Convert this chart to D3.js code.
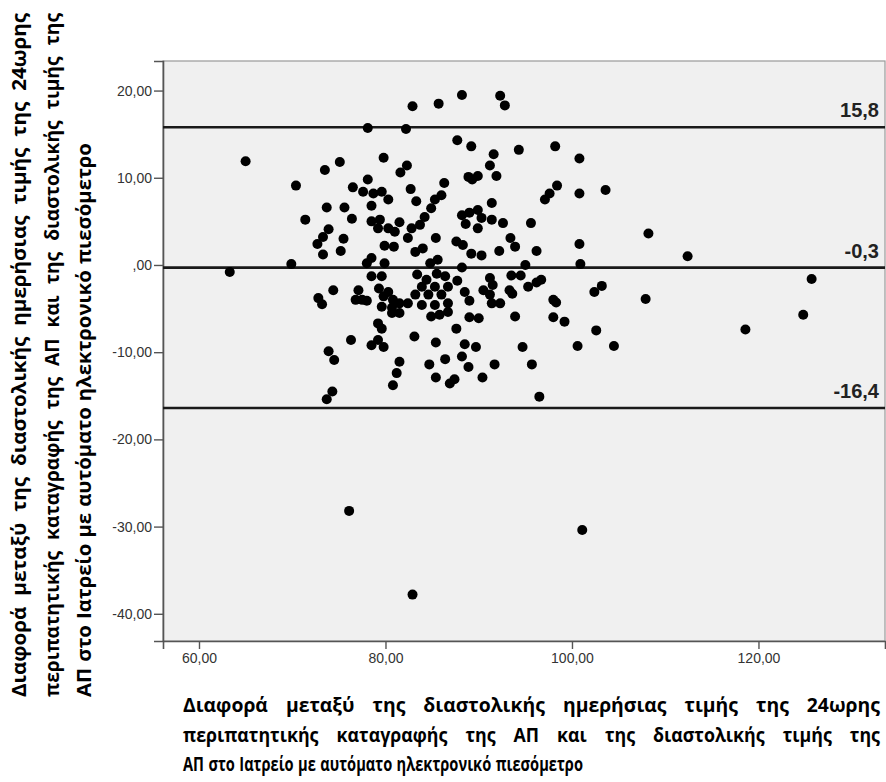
<!DOCTYPE html>
<html>
<head>
<meta charset="UTF-8">
<script src="https://d3js.org/d3.v7.min.js"></script>
<style>
	body{ margin: 0; background: #fff; }
	svg{ display: block; }
</style>
</head>
<body>
<svg id="chart" width="886" height="782"></svg>
<script>
	// Bland-Altman data
	var meanBP = [
		65.0, 70.4, 73.5, 75.1, 76.5, 78.1, 78.1, 79.8, 82.2, 82.9, 81.6, 82.3, 82.7, 85.7, 86.3, 87.7,
		88.2, 89.2, 88.9, 89.3, 89.9, 91.2, 91.6, 91.9, 92.3, 92.8, 94.3, 98.2, 100.8, 98.4, 97.6, 97.1,
		100.8, 103.6, 77.6, 78.7, 79.6, 80.3, 78.5,
		71.4, 73.7, 75.6, 76.4, 83.3, 85.3, 86.0, 84.9, 84.2, 83.7, 82.8, 82.4, 78.5, 79.4, 79.2, 80.3,
		81.0, 81.5, 79.9, 80.9, 83.2, 84.0, 85.4, 88.2, 89.0, 89.9, 90.3, 88.6, 89.9, 91.4, 91.4, 92.6,
		95.6, 87.6, 88.3, 89.2, 90.3, 92.2, 93.4, 93.9, 96.2, 100.8, 100.9, 95.0, 69.9, 63.3, 72.7, 73.3,
		73.9, 73.3, 75.5, 75.2, 78.0, 78.5, 79.9, 84.8, 85.6, 88.2, 83.4, 78.5, 79.6, 74.4, 72.8, 73.2,
		76.8, 77.1, 77.5, 78.0, 79.3, 80.3, 79.8, 80.8, 79.6, 80.7, 81.5, 84.4, 85.5, 86.4, 83.9, 85.3,
		86.7, 83.2, 84.6, 86.0, 82.4, 83.9, 85.3, 86.7, 87.7, 88.5, 89.0, 90.5, 91.2, 91.5, 91.2, 91.4,
		92.3, 93.3, 93.6, 93.5, 94.5, 95.3, 96.2, 96.7, 98.0, 98.3, 102.4, 103.2, 108.2, 112.4, 125.7, 107.9,
		124.8, 118.6,
		79.2, 79.6, 76.3, 78.5, 79.2, 79.8, 73.9, 74.5, 74.3, 73.7, 83.1, 81.5, 81.2, 80.8, 87.6, 85.4,
		88.5, 89.7, 84.7, 86.4, 88.2, 88.9, 85.4, 86.9, 87.4, 90.4, 91.7, 94.7, 95.7, 96.5, 93.9, 98.0,
		99.2, 102.6, 100.6, 104.5, 80.7, 81.5, 84.9, 85.8, 86.7, 89.0, 90.0, 76.1, 82.9, 101.1
	];
	var diffBP = [
		11.9, 9.1, 10.9, 11.8, 8.9, 15.7, 9.8, 12.3, 15.6, 18.2, 10.6, 11.4, 8.7, 18.5, 9.4, 14.3,
		19.5, 13.6, 10.1, 9.8, 10.2, 11.4, 12.7, 10.2, 19.4, 18.3, 13.2, 13.6, 12.2, 9.1, 8.2, 7.5,
		8.2, 8.6, 8.4, 8.2, 8.4, 7.5, 6.8,
		5.2, 6.6, 6.6, 5.3, 7.3, 7.5, 8.0, 6.5, 5.5, 4.6, 4.2, 3.1, 5.0, 5.2, 4.2, 4.2,
		3.8, 4.9, 2.2, 2.1, 1.5, 1.9, 3.1, 5.7, 6.0, 6.3, 5.4, 4.7, 4.2, 7.1, 5.2, 4.8,
		4.8, 2.7, 2.3, 1.3, 1.1, 1.6, 3.1, 2.1, 1.6, 2.4, 0.1, 0.0, 0.1, -0.8, 2.4, 3.2,
		4.1, 1.2, 3.0, 1.6, 0.2, 0.8, 0.2, 0.2, 0.6, -0.3, -1.1, -1.3, -1.3, -2.9, -3.8, -4.5,
		-4.0, -2.9, -4.0, -4.1, -2.7, -3.1, -3.6, -4.0, -4.8, -4.9, -4.4, -1.7, -1.0, -1.3, -2.5, -2.5,
		-2.5, -3.4, -3.4, -3.4, -4.4, -4.6, -4.6, -4.4, -1.8, -3.1, -4.1, -2.9, -1.5, -2.3, -3.4, -4.4,
		-4.4, -2.9, -3.3, -1.2, -1.2, -2.5, -2.0, -1.7, -4.0, -4.3, -3.1, -2.4, 3.6, 1.0, -1.6, -3.9,
		-5.7, -7.4,
		-6.7, -7.3, -8.6, -9.2, -8.6, -9.4, -9.9, -10.9, -14.5, -15.4, -8.2, -11.1, -12.4, -13.8, -7.3, -8.9,
		-9.1, -9.4, -11.4, -10.8, -10.5, -11.7, -12.9, -13.6, -13.1, -12.9, -11.4, -9.4, -11.4, -15.1, -5.9, -6.0,
		-6.5, -7.5, -9.3, -9.3, -5.5, -5.5, -5.9, -5.7, -5.4, -6.0, -6.1, -28.2, -37.8, -30.4
	];

	// mean difference and limits of agreement
	var refLines = [15.8, -0.3, -16.4];
	var refLabels = ["15,8", "-0,3", "-16,4"];

	var xTicks = [60, 80, 100, 120];
	var yTicks = [20, 10, 0, -10, -20, -30, -40];

	var xTitle = [
		"Διαφορά μεταξύ της διαστολικής ημερήσιας τιμής της 24ωρης",
		"περιπατητικής καταγραφής της ΑΠ και της διαστολικής τιμής της",
		"ΑΠ στο Ιατρείο με αυτόματο ηλεκτρονικό πιεσόμετρο"
	];
	var yTitle = xTitle;

	var svg = d3.select("#chart");

	// plot area
	var plotL = 163, plotR = 885, plotT = 61, plotB = 641;

	var x = d3.scaleLinear().domain([56.14, 133.57]).range([plotL, plotR]);
	var y = d3.scaleLinear().domain([-43.12, 23.39]).range([plotB, plotT]);

	function fmt(v){
		if(v == 0) return ",00";
		return d3.format(".2f")(v).replace(".", ",").replace("\u2212", "-");
	}

	svg.append("rect")
		.attr("x", plotL).attr("y", plotT)
		.attr("width", plotR - plotL).attr("height", plotB - plotT)
		.attr("fill", "#f0f0f0")
		.attr("stroke", "#999")
		.attr("stroke-width", 1.2);

	// axes
	var yAxis = svg.append("g")
		.attr("transform", "translate(" + plotL + ",0)")
		.call(d3.axisLeft(y).tickValues(yTicks).tickFormat(fmt).tickSize(9).tickPadding(2));
	var xAxis = svg.append("g")
		.attr("transform", "translate(0," + plotB + ")")
		.call(d3.axisBottom(x).tickValues(xTicks).tickFormat(fmt).tickSize(8).tickPadding(4));

	[xAxis, yAxis].forEach(function(a){
		a.select(".domain").attr("stroke", "#555").attr("stroke-width", 1.6);
		a.selectAll(".tick line").attr("stroke", "#555").attr("stroke-width", 1.4);
		a.selectAll(".tick text")
			.attr("fill", "#333")
			.attr("font-family", "'Liberation Sans', Arial, sans-serif")
			.attr("font-size", 14);
	});

	// reference lines
	svg.append("g").selectAll("line")
		.data(refLines).enter()
		.append("line")
		.attr("x1", plotL).attr("x2", plotR)
		.attr("y1", function(d){ return y(d); })
		.attr("y2", function(d){ return y(d); })
		.attr("stroke", "#1a1a1a")
		.attr("stroke-width", 2.6);

	svg.append("g").selectAll("text")
		.data(refLines).enter()
		.append("text")
		.attr("x", plotR - 6)
		.attr("y", function(d){ return y(d) - 10; })
		.attr("text-anchor", "end")
		.attr("font-family", "'Liberation Sans', Arial, sans-serif")
		.attr("font-weight", "bold")
		.attr("font-size", 20)
		.attr("fill", "#222")
		.text(function(d, i){ return refLabels[i]; });

	// points
	svg.append("g").selectAll("circle")
		.data(meanBP).enter()
		.append("circle")
		.attr("cx", function(d){ return x(d); })
		.attr("cy", function(d, i){ return y(diffBP[i]); })
		.attr("r", 5)
		.attr("fill", "#000");

	// multi-line titles: first lines justified to fullWidth with a given word gap,
	// last line squeezed/stretched to lastWidth
	function drawTitle(g, lines, size, lastWidth, fullWidth, lineGap, wordGap){
		var font = "'Open Sans', 'Noto Sans', sans-serif";
		lines.forEach(function(line, i){
			var t = g.append("text")
				.attr("font-family", font)
				.attr("font-weight", 700)
				.attr("font-size", size)
				.attr("fill", "#000");
			var words = line.split(" ");
			var spans = words.map(function(w){ return t.append("tspan").text(w); });
			var widths = spans.map(function(sp){ return sp.node().getComputedTextLength(); });
			var total = d3.sum(widths);
			var s, gap;
			if(i == lines.length - 1){
				gap = size * 0.3;
				s = lastWidth / (total + (words.length - 1) * gap);
			}else{
				s = (fullWidth - (words.length - 1) * wordGap) / total;
				gap = wordGap / s;
			}
			t.attr("transform", "translate(0," + (i * lineGap) + ") scale(" + s + ",1)");
			var pos = 0;
			spans.forEach(function(sp, k){
				sp.attr("x", pos).attr("y", 0);
				pos += widths[k] + gap;
			});
		});
	}

	drawTitle(svg.append("g").attr("transform", "translate(183,712)"), xTitle, 19, 400, 697, 29.5, 18);
	drawTitle(svg.append("g").attr("transform", "translate(26,697) rotate(-90)"), yTitle, 19, 554, 684, 32.5, 11);
</script>
</body>
</html>
